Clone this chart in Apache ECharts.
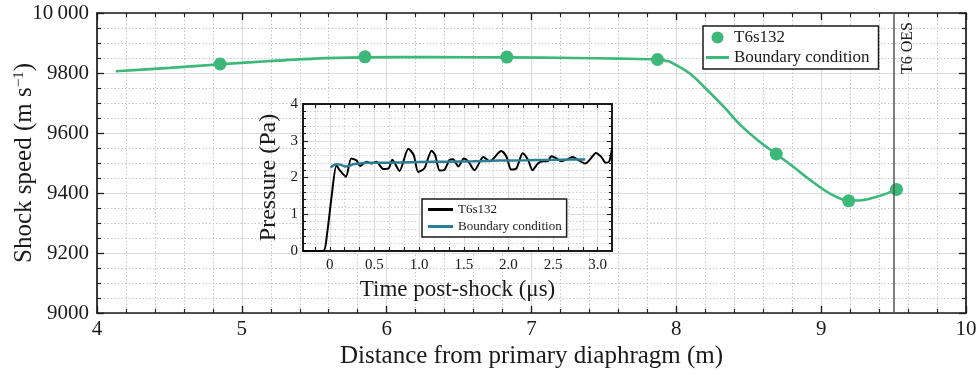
<!DOCTYPE html>
<html><head><meta charset="utf-8">
<script src="https://cdn.jsdelivr.net/npm/echarts@6/dist/echarts.min.js"></script>
<style>html,body{margin:0;padding:0;background:#fff}#c{width:979px;height:374px}</style>
</head><body><div id="c"></div>
<script>
// ---- Main panel: measured shock speed (T6s132) ----
const shockDist  = [4.85, 5.85, 6.83, 7.87, 8.69, 9.19, 9.52];
const shockSpeed = [9830, 9854, 9853, 9845, 9530, 9374, 9412];
// ---- Main panel: boundary condition curve ----
const bcDist  = [4.13, 4.5, 4.85, 5.2, 5.5, 5.85, 6.3, 6.83, 7.3, 7.6, 7.87, 7.95, 8.0, 8.1, 8.21, 8.33, 8.44, 8.56, 8.69, 8.79, 8.9, 9.02, 9.11, 9.19, 9.28, 9.36, 9.45, 9.52];
const bcSpeed = [9806, 9817, 9829, 9840, 9848, 9852, 9853, 9852, 9850, 9848, 9845, 9838, 9826, 9796, 9745, 9686, 9628, 9577, 9530, 9494, 9452, 9410, 9386, 9375, 9376, 9384, 9398, 9412];
// ---- OES location ----
const oesPosition = 9.5;
const oesLabel = 'T6 OES';
// ---- Inset: measured pressure trace ----
const pTime  = [-0.3, -0.075, -0.03, 0.02, 0.075, 0.11, 0.18, 0.24, 0.30, 0.34, 0.41, 0.467, 0.52, 0.60, 0.66, 0.70, 0.78, 0.88, 0.94, 0.99, 1.06, 1.14, 1.18, 1.23, 1.28, 1.34, 1.38, 1.44, 1.50, 1.55, 1.62, 1.72, 1.79, 1.92, 1.98, 2.03, 2.09, 2.16, 2.22, 2.27, 2.33, 2.39, 2.44, 2.48, 2.54, 2.59, 2.67, 2.72, 2.78, 2.86, 2.91, 2.98, 3.04, 3.09, 3.13, 3.16];
const pValue = [0, 0, 0.48, 1.48, 2.33, 2.2, 2.02, 2.52, 2.46, 2.31, 2.43, 2.38, 2.43, 2.23, 2.25, 2.48, 2.18, 2.78, 2.61, 2.15, 2.25, 2.73, 2.61, 2.19, 2.2, 2.48, 2.5, 2.3, 2.52, 2.44, 2.2, 2.56, 2.44, 2.72, 2.56, 2.22, 2.25, 2.66, 2.48, 2.2, 2.38, 2.44, 2.44, 2.58, 2.52, 2.44, 2.5, 2.56, 2.48, 2.38, 2.48, 2.67, 2.56, 2.4, 2.44, 2.79];
// ---- Inset: boundary condition pressure ----
const bcTime     = [0.01, 0.07, 0.12, 0.17, 0.22, 0.26, 0.33, 0.41, 0.6, 0.8, 1.0, 1.3, 1.6, 1.9, 2.2, 2.5, 2.7, 2.86];
const bcPressure = [2.27, 2.36, 2.35, 2.30, 2.32, 2.36, 2.38, 2.40, 2.40, 2.41, 2.42, 2.43, 2.44, 2.46, 2.47, 2.48, 2.49, 2.49];
// ---- Inset tick labels ----
const insetTimeLabels = [0, 0.5, 1.0, 1.5, 2.0, 2.5, 3.0];
const insetTimeMinor = [];
for (let k = -1; k <= 18; k++) insetTimeMinor.push(+(k / 6).toFixed(4));
const names = ['T6s132', 'Boundary condition'];

const FONT = 'Liberation Serif';
const INK = '#1a1a1a';
const GREEN = '#3cb878';
const BLUE = '#2c7d93';
const zip = (a, b) => a.map((v, i) => [v, b[i]]);

const chart = echarts.init(document.getElementById('c'), null, {renderer: 'canvas'});

const mainLine = {onZero: false, lineStyle: {color: INK, width: 1.7}};
const mainTick = {inside: true, length: 7, lineStyle: {color: INK, width: 1.3}};
const gridSolid = {show: true, lineStyle: {color: '#dcdcdc', width: 1.2}};
const gridDot = {show: true, lineStyle: {color: '#c6c6c6', width: 1, type: [1.5, 2]}};
const insetLine = {onZero: false, lineStyle: {color: INK, width: 2}};

chart.setOption({
  animation: false,
  backgroundColor: '#fff',
  grid: [
    {left: 97, right: 13, top: 13, bottom: 61, containLabel: false, outerBoundsMode: 'none'},
    {left: 303, top: 104, width: 309, height: 147, show: true, backgroundColor: '#fff', borderWidth: 0, z: 1,
     containLabel: false, outerBoundsMode: 'none'}
  ],
  xAxis: [
    {type: 'value', gridIndex: 0, position: 'bottom', min: 4, max: 10, interval: 1,
     axisLine: mainLine, axisTick: mainTick,
     minorTick: {show: true, splitNumber: 5, length: 4, lineStyle: {color: INK, width: 1.1}},
     axisLabel: {margin: 6, fontFamily: FONT, fontSize: 21, color: INK},
     splitLine: gridSolid, minorSplitLine: gridDot,
     name: 'Distance from primary diaphragm (m)', nameLocation: 'middle', nameGap: 31, nameMoveOverlap: false,
     nameTextStyle: {fontFamily: FONT, fontSize: 25, color: INK}},
    {type: 'value', gridIndex: 0, position: 'top', min: 4, max: 10, interval: 1,
     axisLine: mainLine, axisTick: mainTick,
     minorTick: {show: true, splitNumber: 5, length: 4, lineStyle: {color: INK, width: 1.1}},
     axisLabel: {show: false}, splitLine: {show: false}},
    {type: 'value', gridIndex: 1, position: 'bottom', min: -0.3, max: 3.16, z: 2,
     axisLine: insetLine,
     axisTick: {inside: true, length: 4, customValues: insetTimeMinor, lineStyle: {color: INK, width: 1.1}},
     axisLabel: {customValues: insetTimeLabels, formatter: v => (v === 0 ? '0' : v.toFixed(1)), margin: 7, fontFamily: FONT, fontSize: 15, color: INK},
     splitLine: {show: false},
     name: 'Time post-shock (μs)', nameLocation: 'middle', nameGap: 27, nameMoveOverlap: false,
     nameTextStyle: {fontFamily: FONT, fontSize: 23, color: INK}},
    {type: 'value', gridIndex: 1, position: 'top', min: -0.3, max: 3.16, z: 2,
     axisLine: insetLine,
     axisTick: {inside: true, length: 4, customValues: insetTimeMinor, lineStyle: {color: INK, width: 1.1}},
     axisLabel: {show: false},
     splitLine: {show: true, lineStyle: {color: '#cfcfcf', width: 1, type: [1.5, 2]}}},
    {type: 'value', gridIndex: 1, position: 'bottom', min: -0.3, max: 3.16, z: 2,
     axisLine: {show: false, onZero: false},
     axisTick: {show: false, customValues: insetTimeLabels},
     axisLabel: {show: false},
     splitLine: {show: true, lineStyle: {color: '#dedede', width: 1.2}}}
  ],
  yAxis: [
    {type: 'value', gridIndex: 0, position: 'left', min: 9000, max: 10000, interval: 200,
     axisLine: mainLine, axisTick: mainTick,
     minorTick: {show: true, splitNumber: 4, length: 4, lineStyle: {color: INK, width: 1.1}},
     axisLabel: {margin: 8, fontFamily: FONT, fontSize: 21, color: INK,
                 formatter: v => (v >= 10000 ? '10\u2009000' : String(v))},
     splitLine: gridSolid, minorSplitLine: gridDot,
     name: 'Shock speed (m s{sup|−1})', nameLocation: 'middle', nameGap: 60, nameMoveOverlap: false,
     nameTextStyle: {fontFamily: FONT, fontSize: 25, color: INK,
                     rich: {sup: {fontFamily: FONT, fontSize: 15, color: INK, verticalAlign: 'top', lineHeight: 25}}}},
    {type: 'value', gridIndex: 0, position: 'right', min: 9000, max: 10000, interval: 200,
     axisLine: mainLine, axisTick: mainTick,
     minorTick: {show: true, splitNumber: 4, length: 4, lineStyle: {color: INK, width: 1.1}},
     axisLabel: {show: false}, splitLine: {show: false}},
    {type: 'value', gridIndex: 1, position: 'left', min: 0, max: 4, interval: 1, z: 2,
     axisLine: insetLine,
     axisTick: {inside: true, length: 5, lineStyle: {color: INK, width: 1.1}},
     minorTick: {show: true, splitNumber: 5, length: 3, lineStyle: {color: INK, width: 1}},
     axisLabel: {margin: 5, fontFamily: FONT, fontSize: 15, color: INK},
     splitLine: {show: true, lineStyle: {color: '#dedede', width: 1.2}},
     minorSplitLine: {show: true, lineStyle: {color: '#cfcfcf', width: 1, type: [1.5, 2]}},
     name: 'Pressure (Pa)', nameLocation: 'middle', nameGap: 22, nameMoveOverlap: false,
     nameTextStyle: {fontFamily: FONT, fontSize: 24, color: INK}},
    {type: 'value', gridIndex: 1, position: 'right', min: 0, max: 4, interval: 1, z: 2,
     axisLine: insetLine,
     axisTick: {inside: true, length: 5, lineStyle: {color: INK, width: 1.1}},
     minorTick: {show: true, splitNumber: 5, length: 3, lineStyle: {color: INK, width: 1}},
     axisLabel: {show: false}, splitLine: {show: false}}
  ],
  legend: [
    {selectedMode: false, orient: 'vertical', left: 703, top: 26, z: 6,
     padding: [3, 9, 3, 3], itemGap: 3, itemWidth: 23, itemHeight: 12,
     backgroundColor: '#fff', borderColor: INK, borderWidth: 1.5, borderRadius: 0,
     textStyle: {fontFamily: FONT, fontSize: 17, color: INK},
     data: [
       {name: names[0], icon: 'circle', itemStyle: {borderWidth: 0}},
       {name: names[1], icon: 'path://M0,0H23V3H0Z', itemStyle: {color: GREEN, borderWidth: 0}}
     ]},
    {selectedMode: false, orient: 'vertical', left: 422, top: 199, z: 6,
     padding: [4, 5, 4, 6], itemGap: 4, itemWidth: 25, itemHeight: 10,
     backgroundColor: '#fff', borderColor: INK, borderWidth: 1.5, borderRadius: 0,
     textStyle: {fontFamily: FONT, fontSize: 13, color: INK},
     data: [
       {name: names[0], icon: 'path://M0,0H25V3H0Z', itemStyle: {color: '#000', borderWidth: 0}},
       {name: names[1], icon: 'path://M0,0H25V3H0Z', itemStyle: {color: BLUE, borderWidth: 0}}
     ]}
  ],
  series: [
    {type: 'line', name: names[1], xAxisIndex: 0, yAxisIndex: 0, data: zip(bcDist, bcSpeed),
     smooth: 0.3, symbol: 'none', lineStyle: {color: GREEN, width: 2.6}, itemStyle: {color: GREEN}, z: 2,
     markLine: {silent: true, symbol: ['none', 'none'], animation: false,
       lineStyle: {color: '#555', width: 1.5, type: 'solid'},
       label: {show: true, formatter: oesLabel, position: 'insideEndBottom', distance: [9, 6],
               fontFamily: FONT, fontSize: 16, color: INK},
       data: [{xAxis: oesPosition}]}},
    {type: 'scatter', name: names[0], xAxisIndex: 0, yAxisIndex: 0, data: zip(shockDist, shockSpeed),
     symbol: 'circle', symbolSize: 13, itemStyle: {color: GREEN, opacity: 1}, z: 3},
    {type: 'line', name: names[0], xAxisIndex: 2, yAxisIndex: 2, data: zip(pTime, pValue),
     smooth: 0.25, symbol: 'none', lineStyle: {color: '#000', width: 2}, itemStyle: {color: '#000'}, z: 3},
    {type: 'line', name: names[1], xAxisIndex: 2, yAxisIndex: 2, data: zip(bcTime, bcPressure),
     smooth: 0.3, symbol: 'none', lineStyle: {color: BLUE, width: 2.5}, itemStyle: {color: BLUE}, z: 4}
  ]
});
</script>
</body></html>
